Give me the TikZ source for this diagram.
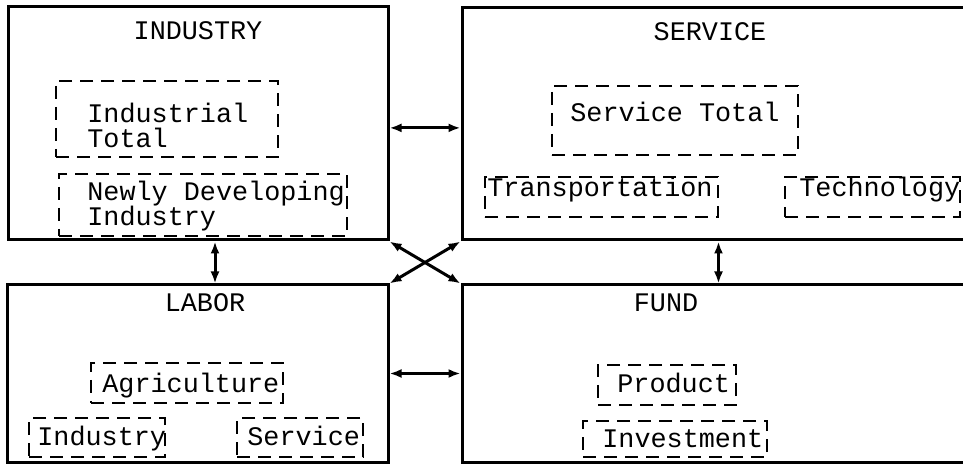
\documentclass[tikz,border=0pt]{standalone}
\usepackage{fontspec}
\setmonofont{Liberation Mono}
\usetikzlibrary{arrows.meta,fit}
\begin{document}
\begin{tikzpicture}[x=0.5pt,y=-0.5pt,
  outerbox/.style={draw, line width=1.5pt, inner sep=0pt},
  subbox/.style={draw, line width=1.3pt, dash pattern=on 6.5pt off 4pt, inner sep=0pt},
  lbl/.style={font=\ttfamily\fontsize{13.4}{12.5}\selectfont, inner sep=0pt, anchor=base west, align=left},
  ttl/.style={font=\ttfamily\fontsize{13.4}{12.5}\selectfont, inner sep=0pt, anchor=base},
  link/.style={line width=1.5pt, {Latex[length=6pt,width=4.5pt]}-{Latex[length=6pt,width=4.5pt]}}]
\clip (0,0) rectangle (963,464);

% sector boxes
\node[outerbox, fit={(8,7) (388,240)}] (ind) {};
\node[outerbox, fit={(462,8) (975,240)}] (ser) {};
\node[outerbox, fit={(7,285) (388,462)}] (lab) {};
\node[outerbox, fit={(462,285) (975,462)}] (fund) {};

% titles
\node[ttl] (indT) at (198,40) {INDUSTRY};
\node[ttl] (serT) at (710,41) {SERVICE};
\node[ttl] (labT) at (205,312) {LABOR};
\node[ttl] (fundT) at (666,312) {FUND};

% industry contents (two-line labels are anchored on their last line)
\node[subbox, fit={(56,81) (278,157)}] (itotB) {};
\node[lbl] (itot) at (87,148) {Industrial\\Total};
\node[subbox, fit={(59,174) (347,236)}] (newB) {};
\node[lbl] (new) at (87,226) {Newly Developing\\Industry};

% service contents
\node[subbox, fit={(552,86) (798,155)}] (stotB) {};
\node[lbl] (stot) at (570,122) {Service Total};
\node[subbox, fit={(485,177) (718,217)}] (traB) {};
\node[lbl] (tra) at (487,197) {Transportation};
\node[subbox, fit={(785,177) (960,217)}] (tecB) {};
\node[lbl] (tec) at (799,197) {Technology};

% labor contents
\node[subbox, fit={(91,363) (283,403)}] (agrB) {};
\node[lbl] (agr) at (102,393) {Agriculture};
\node[subbox, fit={(29,418) (165,457)}] (linB) {};
\node[lbl] (lin) at (37,445) {Industry};
\node[subbox, fit={(237,418) (363,457)}] (lseB) {};
\node[lbl] (lse) at (247,445) {Service};

% fund contents
\node[subbox, fit={(598,365) (736,405)}] (proB) {};
\node[lbl] (pro) at (617,393) {Product};
\node[subbox, fit={(583,421) (767,457)}] (invB) {};
\node[lbl] (inv) at (602,447) {Investment};

% links between sectors
\draw[link] ([yshift=-2.2pt]ind.east) -- ([yshift=-2.2pt]ind.east -| ser.west);
\draw[link] ([xshift=8.5pt]ind.south) -- ([xshift=8.5pt]ind.south |- lab.north);
\draw[link] (ser.south) -- (ser.south |- fund.north);
\draw[link] (lab.east) -- (lab.east -| fund.west);
\draw[link] (ind.south east) -- (fund.north west);
\draw[link] (ser.south west) -- (lab.north east);
\end{tikzpicture}
\end{document}
